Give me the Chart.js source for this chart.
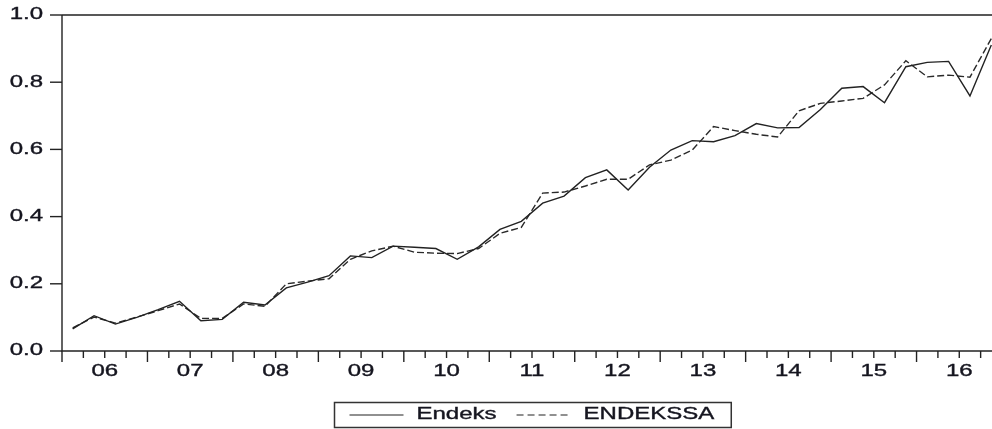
<!DOCTYPE html>
<html>
<head>
<meta charset="utf-8">
<script src="https://cdn.jsdelivr.net/npm/chart.js@4.4.1/dist/chart.umd.min.js"></script>
<style>
  html, body { margin: 0; padding: 0; background: #fff; overflow: hidden; }
  #wrap { width: 1010px; height: 429px; }
</style>
</head>
<body>
<div id="wrap"><canvas id="c" width="1010" height="429"></canvas></div>
<script>
// Quarterly observations, 2006Q1 - 2016Q4
const quarters = [
  '2006Q1','2006Q2','2006Q3','2006Q4','2007Q1','2007Q2','2007Q3','2007Q4',
  '2008Q1','2008Q2','2008Q3','2008Q4','2009Q1','2009Q2','2009Q3','2009Q4',
  '2010Q1','2010Q2','2010Q3','2010Q4','2011Q1','2011Q2','2011Q3','2011Q4',
  '2012Q1','2012Q2','2012Q3','2012Q4','2013Q1','2013Q2','2013Q3','2013Q4',
  '2014Q1','2014Q2','2014Q3','2014Q4','2015Q1','2015Q2','2015Q3','2015Q4',
  '2016Q1','2016Q2','2016Q3','2016Q4'
];

// Year labels shown under the axis
const yearLabels = ['06','07','08','09','10','11','12','13','14','15','16'];

// Y axis tick values
const yTicks = [0.0, 0.2, 0.4, 0.6, 0.8, 1.0];

// Series
const endeks = [
  0.066, 0.105, 0.080, 0.100, 0.123, 0.148, 0.090, 0.094,
  0.145, 0.137, 0.188, 0.205, 0.224, 0.283, 0.278, 0.312,
  0.309, 0.305, 0.273, 0.310, 0.362, 0.386, 0.440, 0.461,
  0.516, 0.539, 0.479, 0.547, 0.598, 0.626, 0.623, 0.641,
  0.677, 0.664, 0.665, 0.719, 0.782, 0.787, 0.739, 0.846,
  0.859, 0.862, 0.759, 0.911
];
const endekssa = [
  0.069, 0.101, 0.083, 0.101, 0.120, 0.140, 0.097, 0.097,
  0.140, 0.133, 0.200, 0.208, 0.215, 0.273, 0.298, 0.312,
  0.294, 0.291, 0.290, 0.305, 0.350, 0.368, 0.470, 0.473,
  0.491, 0.511, 0.511, 0.554, 0.568, 0.598, 0.668, 0.656,
  0.645, 0.637, 0.715, 0.737, 0.744, 0.752, 0.792, 0.864,
  0.816, 0.821, 0.815, 0.930
];

const INK = '#222';
const FONT = '16px "Liberation Sans", Arial, sans-serif';
const STRETCH = 1.5;

// Each observation sits in the middle of its quarter
const toPoints = arr => arr.map((v, i) => ({ x: i + 0.5, y: v }));

// Wide, slightly heavy text
function wideText(ctx, text, x, y, align) {
  ctx.save();
  ctx.translate(x, y);
  ctx.scale(STRETCH, 1);
  ctx.textAlign = align;
  ctx.textBaseline = 'middle';
  ctx.fillStyle = '#15151f';
  ctx.strokeStyle = '#15151f';
  ctx.lineWidth = 0.35;
  ctx.fillText(text, 0, 0);
  ctx.strokeText(text, 0, 0);
  ctx.restore();
}
function wideWidth(ctx, text) {
  return ctx.measureText(text).width * STRETCH;
}

// Frame, axes, ticks, labels and the boxed legend
const framePlugin = {
  id: 'frame',
  afterDraw(chart) {
    const { ctx, chartArea: a, scales } = chart;
    const xs = scales.x, ys = scales.y;
    ctx.save();
    ctx.strokeStyle = INK;
    ctx.lineWidth = 1.4;
    ctx.font = FONT;

    // top frame and the two axes
    ctx.beginPath();
    ctx.moveTo(a.left, a.top); ctx.lineTo(a.right, a.top);
    ctx.moveTo(a.left, a.top); ctx.lineTo(a.left, a.bottom);
    ctx.lineTo(a.right, a.bottom);
    ctx.stroke();

    // y ticks and labels
    yTicks.forEach(v => {
      const py = ys.getPixelForValue(v);
      ctx.beginPath();
      ctx.moveTo(a.left - 12, py); ctx.lineTo(a.left, py);
      ctx.stroke();
      wideText(ctx, v.toFixed(1), a.left - 19, py, 'right');
    });

    // x ticks at quarter boundaries, longer at year boundaries
    for (let b = 0; b <= quarters.length; b++) {
      const px = xs.getPixelForValue(b);
      const len = (b % 4 === 0) ? 11 : 7;
      ctx.beginPath();
      ctx.moveTo(px, a.bottom); ctx.lineTo(px, a.bottom + len);
      ctx.stroke();
    }
    yearLabels.forEach((lab, k) => {
      const px = xs.getPixelForValue(k * 4 + 2);
      wideText(ctx, lab, px, a.bottom + 21, 'center');
    });

    // legend
    const items = chart.data.datasets.map(d => ({ label: d.label, dash: d.borderDash || [] }));
    const sample = 54, padL = 15, gapS = 13, gapI = 20, padR = 17;
    let total = padL + padR;
    items.forEach((it, i) => {
      total += sample + gapS + wideWidth(ctx, it.label);
      if (i < items.length - 1) total += gapI;
    });
    const cx = (a.left + a.right) / 2;
    const bx = Math.round(cx - total / 2) + 0.5;
    const by = 402.5, bh = 25;
    ctx.lineWidth = 1.5;
    ctx.strokeStyle = '#333';
    ctx.strokeRect(bx, by, total, bh);
    let x = bx + padL;
    const ly = by + bh / 2;
    items.forEach(it => {
      ctx.save();
      ctx.lineWidth = 1.2;
      ctx.strokeStyle = INK;
      ctx.setLineDash(it.dash.length ? [7, 4] : []);
      ctx.beginPath();
      ctx.moveTo(x, ly); ctx.lineTo(x + sample, ly);
      ctx.stroke();
      ctx.restore();
      x += sample + gapS;
      wideText(ctx, it.label, x, ly, 'left');
      x += wideWidth(ctx, it.label) + gapI;
    });
    ctx.restore();
  }
};

new Chart(document.getElementById('c'), {
  type: 'line',
  data: {
    datasets: [
      {
        label: 'Endeks',
        data: toPoints(endeks),
        borderColor: INK,
        borderWidth: 1.4,
        pointRadius: 0,
        tension: 0,
        fill: false
      },
      {
        label: 'ENDEKSSA',
        data: toPoints(endekssa),
        borderColor: '#2a2a2a',
        borderWidth: 1.4,
        borderDash: [7, 3],
        pointRadius: 0,
        tension: 0,
        fill: false
      }
    ]
  },
  options: {
    responsive: false,
    animation: false,
    events: [],
    layout: { padding: { top: 15, right: 8, left: 0, bottom: 0 } },
    plugins: { legend: { display: false }, tooltip: { enabled: false } },
    scales: {
      x: {
        type: 'linear',
        min: 0,
        max: quarters.length,
        grid: { display: false },
        border: { display: false },
        ticks: { display: false },
        afterFit(scale) { scale.height = 78; }
      },
      y: {
        min: 0,
        max: 1,
        grid: { display: false },
        border: { display: false },
        ticks: { display: false },
        afterFit(scale) { scale.width = 62; }
      }
    }
  },
  plugins: [framePlugin]
});
</script>
</body>
</html>
